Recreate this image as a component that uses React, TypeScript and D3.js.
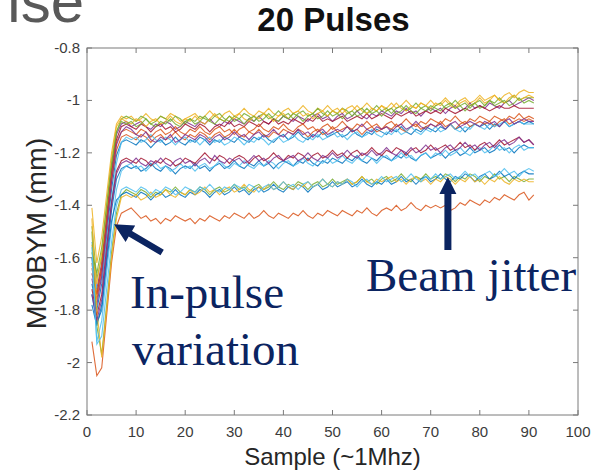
import React from "react";
import * as d3 from "d3";

// sample index 1..91
const samples: number[] = d3.range(1, 92);

const xTicks = [0, 10, 20, 30, 40, 50, 60, 70, 80, 90, 100];
const yTicks = [-0.8, -1, -1.2, -1.4, -1.6, -1.8, -2, -2.2];

const pulse01 = [-1.70,-1.80,-1.70,-1.52,-1.34,-1.21,-1.16,-1.15,
-1.16,-1.17,-1.15,-1.16,-1.18,-1.16,-1.15,-1.17,-1.16,-1.14,-1.16,-1.17,
-1.15,-1.16,-1.14,-1.15,-1.17,-1.15,-1.16,-1.14,-1.15,-1.16,
-1.14,-1.15,-1.16,-1.14,-1.15,-1.13,-1.15,-1.16,-1.14,-1.13,
-1.15,-1.14,-1.12,-1.14,-1.15,-1.13,-1.14,-1.12,-1.14,-1.13,
-1.12,-1.14,-1.13,-1.11,-1.13,-1.14,-1.12,-1.13,-1.11,-1.12,
-1.13,-1.11,-1.12,-1.10,-1.12,-1.13,-1.11,-1.12,-1.10,-1.11,
-1.12,-1.10,-1.11,-1.09,-1.11,-1.10,-1.12,-1.10,-1.09,-1.10,
-1.09,-1.11,-1.09,-1.10,-1.08,-1.10,-1.09,-1.08,-1.09,-1.08,-1.09];
const pulse02 = [-1.62,-1.76,-1.66,-1.48,-1.31,-1.19,-1.14,-1.13,
-1.14,-1.15,-1.13,-1.14,-1.16,-1.14,-1.13,-1.15,-1.14,-1.12,-1.14,-1.15,
-1.13,-1.14,-1.12,-1.13,-1.15,-1.13,-1.12,-1.14,-1.13,-1.11,
-1.13,-1.14,-1.12,-1.13,-1.11,-1.13,-1.14,-1.12,-1.13,-1.11,
-1.12,-1.13,-1.11,-1.12,-1.14,-1.12,-1.11,-1.13,-1.12,-1.10,
-1.12,-1.11,-1.10,-1.12,-1.11,-1.13,-1.11,-1.10,-1.12,-1.11,
-1.10,-1.11,-1.09,-1.11,-1.12,-1.10,-1.09,-1.11,-1.10,-1.09,
-1.10,-1.08,-1.10,-1.09,-1.11,-1.09,-1.08,-1.10,-1.09,-1.08,
-1.09,-1.08,-1.10,-1.08,-1.07,-1.09,-1.08,-1.07,-1.08,-1.07,-1.08];
const pulse03 = [-1.41,-1.62,-1.52,-1.36,-1.20,-1.09,-1.06,-1.07,
-1.06,-1.08,-1.07,-1.05,-1.07,-1.08,-1.06,-1.07,-1.05,-1.06,-1.08,-1.07,
-1.06,-1.05,-1.07,-1.06,-1.04,-1.06,-1.07,-1.05,-1.04,-1.06,
-1.05,-1.03,-1.05,-1.06,-1.04,-1.05,-1.03,-1.05,-1.06,-1.04,
-1.03,-1.05,-1.04,-1.02,-1.04,-1.05,-1.03,-1.04,-1.02,-1.04,
-1.03,-1.05,-1.03,-1.02,-1.04,-1.03,-1.01,-1.03,-1.04,-1.02,
-1.03,-1.01,-1.03,-1.02,-1.00,-1.02,-1.03,-1.01,-1.02,-1.00,
-1.02,-1.01,-0.99,-1.01,-1.02,-1.00,-0.99,-1.01,-1.00,-0.98,
-1.00,-0.99,-0.98,-1.00,-0.98,-0.97,-0.99,-0.97,-0.96,-0.97,-0.97];
const pulse04 = [-1.60,-1.72,-1.62,-1.44,-1.26,-1.13,-1.09,-1.08,
-1.10,-1.09,-1.08,-1.10,-1.11,-1.09,-1.10,-1.08,-1.09,-1.11,-1.10,-1.08,
-1.09,-1.10,-1.08,-1.09,-1.07,-1.09,-1.10,-1.08,-1.09,-1.07,
-1.08,-1.09,-1.07,-1.08,-1.06,-1.08,-1.09,-1.07,-1.08,-1.06,
-1.07,-1.08,-1.06,-1.07,-1.08,-1.06,-1.05,-1.07,-1.06,-1.08,
-1.06,-1.05,-1.07,-1.06,-1.04,-1.06,-1.07,-1.05,-1.06,-1.04,
-1.05,-1.06,-1.04,-1.05,-1.03,-1.05,-1.04,-1.06,-1.04,-1.03,
-1.04,-1.03,-1.05,-1.03,-1.02,-1.04,-1.03,-1.01,-1.03,-1.02,
-1.03,-1.01,-1.02,-1.03,-1.01,-1.00,-1.02,-1.01,-1.00,-0.99,-1.00];
const pulse05 = [-1.48,-1.68,-1.60,-1.42,-1.25,-1.12,-1.07,-1.06,
-1.07,-1.08,-1.06,-1.07,-1.09,-1.08,-1.06,-1.07,-1.08,-1.06,-1.07,-1.09,
-1.07,-1.08,-1.06,-1.07,-1.08,-1.06,-1.05,-1.07,-1.08,-1.06,
-1.07,-1.05,-1.06,-1.08,-1.06,-1.05,-1.07,-1.06,-1.04,-1.06,
-1.05,-1.07,-1.05,-1.04,-1.06,-1.05,-1.03,-1.05,-1.06,-1.04,
-1.05,-1.03,-1.04,-1.06,-1.04,-1.03,-1.05,-1.04,-1.02,-1.04,
-1.03,-1.05,-1.03,-1.02,-1.04,-1.03,-1.01,-1.03,-1.02,-1.04,
-1.02,-1.01,-1.03,-1.02,-1.00,-1.02,-1.01,-1.03,-1.01,-1.00,
-1.02,-1.00,-1.01,-0.99,-1.01,-1.00,-0.98,-1.00,-0.99,-0.99,-0.99];
const pulse06 = [-1.54,-1.72,-1.68,-1.54,-1.38,-1.24,-1.16,-1.14,
-1.15,-1.14,-1.16,-1.15,-1.13,-1.15,-1.16,-1.14,-1.15,-1.17,-1.15,-1.14,
-1.16,-1.15,-1.17,-1.15,-1.14,-1.16,-1.15,-1.17,-1.16,-1.14,
-1.15,-1.17,-1.15,-1.16,-1.14,-1.15,-1.17,-1.15,-1.14,-1.16,
-1.15,-1.13,-1.15,-1.16,-1.14,-1.15,-1.13,-1.15,-1.14,-1.12,
-1.14,-1.13,-1.15,-1.13,-1.12,-1.14,-1.13,-1.11,-1.13,-1.14,
-1.12,-1.13,-1.11,-1.13,-1.12,-1.10,-1.12,-1.13,-1.11,-1.12,
-1.10,-1.12,-1.11,-1.09,-1.11,-1.12,-1.10,-1.11,-1.09,-1.10,
-1.11,-1.09,-1.10,-1.09,-1.08,-1.10,-1.09,-1.08,-1.09,-1.09,-1.09];
const pulse07 = [-1.66,-1.74,-1.64,-1.46,-1.28,-1.15,-1.10,-1.09,
-1.10,-1.11,-1.09,-1.10,-1.12,-1.10,-1.09,-1.11,-1.10,-1.12,-1.11,-1.09,
-1.10,-1.11,-1.09,-1.10,-1.12,-1.10,-1.09,-1.10,-1.08,-1.10,
-1.09,-1.10,-1.08,-1.09,-1.10,-1.08,-1.09,-1.07,-1.09,-1.08,
-1.09,-1.07,-1.08,-1.09,-1.07,-1.08,-1.06,-1.08,-1.07,-1.08,
-1.07,-1.06,-1.08,-1.07,-1.06,-1.07,-1.05,-1.07,-1.06,-1.05,
-1.06,-1.07,-1.05,-1.06,-1.05,-1.04,-1.06,-1.05,-1.04,-1.05,
-1.04,-1.05,-1.03,-1.04,-1.05,-1.04,-1.03,-1.04,-1.03,-1.02,
-1.03,-1.04,-1.03,-1.02,-1.03,-1.03,-1.02,-1.03,-1.03,-1.03,-1.03];
const pulse08 = [-1.78,-1.86,-1.78,-1.60,-1.42,-1.30,-1.26,-1.25,
-1.26,-1.25,-1.27,-1.26,-1.24,-1.26,-1.27,-1.25,-1.26,-1.28,-1.26,-1.25,
-1.26,-1.24,-1.26,-1.25,-1.27,-1.25,-1.24,-1.26,-1.25,-1.23,
-1.25,-1.26,-1.24,-1.25,-1.23,-1.25,-1.24,-1.26,-1.24,-1.23,
-1.24,-1.25,-1.23,-1.24,-1.22,-1.24,-1.25,-1.23,-1.24,-1.22,
-1.23,-1.24,-1.22,-1.23,-1.21,-1.23,-1.24,-1.22,-1.23,-1.21,
-1.22,-1.23,-1.21,-1.22,-1.20,-1.22,-1.23,-1.21,-1.20,-1.22,
-1.21,-1.20,-1.22,-1.20,-1.19,-1.21,-1.20,-1.18,-1.20,-1.19,
-1.18,-1.20,-1.19,-1.17,-1.19,-1.18,-1.20,-1.18,-1.17,-1.18,-1.18];
const pulse09 = [-1.64,-1.74,-1.63,-1.46,-1.29,-1.16,-1.12,-1.11,
-1.12,-1.13,-1.11,-1.12,-1.14,-1.12,-1.11,-1.13,-1.12,-1.10,-1.12,-1.13,
-1.11,-1.12,-1.10,-1.12,-1.13,-1.11,-1.10,-1.12,-1.11,-1.13,
-1.11,-1.10,-1.12,-1.11,-1.09,-1.11,-1.12,-1.10,-1.11,-1.09,
-1.11,-1.12,-1.10,-1.09,-1.11,-1.10,-1.12,-1.10,-1.09,-1.11,
-1.10,-1.08,-1.10,-1.11,-1.09,-1.10,-1.08,-1.10,-1.09,-1.11,
-1.09,-1.08,-1.10,-1.09,-1.07,-1.09,-1.10,-1.08,-1.09,-1.07,
-1.08,-1.09,-1.07,-1.08,-1.06,-1.08,-1.09,-1.07,-1.08,-1.06,
-1.07,-1.08,-1.06,-1.07,-1.08,-1.06,-1.07,-1.05,-1.07,-1.06,-1.07];
const pulse10 = [-1.55,-1.70,-1.58,-1.40,-1.22,-1.10,-1.07,-1.08,
-1.09,-1.07,-1.08,-1.10,-1.08,-1.07,-1.09,-1.08,-1.06,-1.08,-1.09,-1.07,
-1.08,-1.06,-1.08,-1.09,-1.07,-1.05,-1.07,-1.08,-1.06,-1.07,
-1.05,-1.07,-1.08,-1.06,-1.07,-1.05,-1.06,-1.08,-1.06,-1.05,
-1.07,-1.05,-1.04,-1.06,-1.05,-1.07,-1.05,-1.04,-1.06,-1.04,
-1.05,-1.03,-1.05,-1.04,-1.02,-1.04,-1.05,-1.03,-1.04,-1.02,
-1.04,-1.03,-1.01,-1.03,-1.04,-1.02,-1.03,-1.01,-1.02,-1.03,
-1.01,-1.02,-1.00,-1.02,-1.03,-1.01,-1.00,-1.02,-1.01,-0.99,
-1.01,-1.00,-0.98,-1.00,-1.01,-0.99,-0.98,-1.00,-0.99,-0.98,-0.99];
const pulse11 = [-1.68,-1.78,-1.67,-1.49,-1.31,-1.17,-1.12,-1.10,
-1.11,-1.13,-1.14,-1.12,-1.15,-1.16,-1.14,-1.15,-1.13,-1.16,-1.15,-1.13,
-1.14,-1.15,-1.13,-1.14,-1.16,-1.14,-1.13,-1.15,-1.14,-1.12,
-1.14,-1.13,-1.15,-1.13,-1.12,-1.14,-1.13,-1.11,-1.13,-1.14,
-1.12,-1.13,-1.11,-1.13,-1.12,-1.14,-1.12,-1.11,-1.13,-1.12,
-1.11,-1.12,-1.10,-1.12,-1.11,-1.09,-1.11,-1.12,-1.10,-1.11,
-1.10,-1.12,-1.10,-1.09,-1.11,-1.10,-1.08,-1.10,-1.11,-1.09,
-1.10,-1.09,-1.11,-1.09,-1.08,-1.10,-1.09,-1.08,-1.09,-1.10,
-1.08,-1.09,-1.08,-1.10,-1.08,-1.07,-1.09,-1.08,-1.07,-1.08,-1.08];
const pulse12 = [-1.50,-1.86,-1.97,-1.78,-1.58,-1.43,-1.36,-1.34,
-1.35,-1.36,-1.34,-1.35,-1.37,-1.35,-1.36,-1.34,-1.35,-1.33,-1.35,-1.36,
-1.34,-1.35,-1.33,-1.34,-1.36,-1.34,-1.33,-1.35,-1.34,-1.32,
-1.34,-1.33,-1.35,-1.33,-1.32,-1.34,-1.33,-1.31,-1.33,-1.34,
-1.32,-1.33,-1.31,-1.32,-1.34,-1.32,-1.31,-1.33,-1.32,-1.30,
-1.32,-1.31,-1.30,-1.32,-1.31,-1.29,-1.31,-1.30,-1.32,-1.30,
-1.29,-1.31,-1.30,-1.28,-1.30,-1.31,-1.29,-1.30,-1.28,-1.30,
-1.29,-1.30,-1.28,-1.29,-1.31,-1.29,-1.30,-1.28,-1.29,-1.31,
-1.29,-1.30,-1.28,-1.30,-1.29,-1.31,-1.29,-1.30,-1.31,-1.30,-1.30];
const pulse13 = [-1.60,-1.92,-1.84,-1.66,-1.48,-1.34,-1.27,-1.25,
-1.24,-1.26,-1.25,-1.27,-1.25,-1.24,-1.26,-1.25,-1.27,-1.26,-1.24,-1.26,
-1.25,-1.27,-1.25,-1.24,-1.26,-1.25,-1.23,-1.25,-1.26,-1.24,
-1.25,-1.23,-1.25,-1.26,-1.24,-1.25,-1.23,-1.24,-1.26,-1.24,
-1.23,-1.25,-1.24,-1.22,-1.24,-1.25,-1.23,-1.24,-1.22,-1.24,
-1.23,-1.21,-1.23,-1.24,-1.22,-1.23,-1.21,-1.22,-1.24,-1.22,
-1.21,-1.23,-1.22,-1.20,-1.22,-1.21,-1.23,-1.21,-1.20,-1.22,
-1.20,-1.21,-1.19,-1.21,-1.20,-1.18,-1.20,-1.21,-1.19,-1.18,
-1.20,-1.19,-1.17,-1.19,-1.18,-1.20,-1.18,-1.17,-1.19,-1.18,-1.18];
const pulse14 = [-1.72,-1.82,-1.74,-1.56,-1.39,-1.27,-1.23,-1.22,
-1.23,-1.24,-1.22,-1.23,-1.25,-1.23,-1.24,-1.22,-1.23,-1.25,-1.24,-1.22,
-1.23,-1.24,-1.22,-1.20,-1.22,-1.23,-1.21,-1.22,-1.24,-1.22,
-1.21,-1.22,-1.24,-1.22,-1.21,-1.23,-1.22,-1.20,-1.22,-1.23,
-1.21,-1.22,-1.20,-1.21,-1.23,-1.21,-1.20,-1.22,-1.21,-1.19,
-1.21,-1.20,-1.22,-1.20,-1.19,-1.21,-1.20,-1.18,-1.20,-1.21,
-1.19,-1.20,-1.18,-1.19,-1.21,-1.19,-1.18,-1.20,-1.19,-1.17,
-1.19,-1.18,-1.17,-1.19,-1.18,-1.16,-1.18,-1.17,-1.19,-1.17,
-1.16,-1.18,-1.17,-1.15,-1.17,-1.16,-1.15,-1.14,-1.16,-1.15,-1.17];
const pulse15 = [-1.74,-1.85,-1.80,-1.62,-1.46,-1.38,-1.36,-1.35,
-1.36,-1.37,-1.35,-1.36,-1.38,-1.36,-1.35,-1.37,-1.36,-1.34,-1.36,-1.37,
-1.35,-1.36,-1.34,-1.35,-1.37,-1.35,-1.34,-1.36,-1.35,-1.33,
-1.35,-1.34,-1.36,-1.34,-1.33,-1.35,-1.34,-1.32,-1.34,-1.35,
-1.33,-1.34,-1.32,-1.33,-1.35,-1.33,-1.32,-1.34,-1.33,-1.31,
-1.33,-1.32,-1.31,-1.33,-1.32,-1.30,-1.32,-1.33,-1.31,-1.32,
-1.30,-1.32,-1.31,-1.29,-1.31,-1.30,-1.32,-1.30,-1.29,-1.31,
-1.30,-1.28,-1.30,-1.31,-1.29,-1.30,-1.28,-1.29,-1.31,-1.29,
-1.28,-1.30,-1.29,-1.27,-1.29,-1.28,-1.30,-1.28,-1.27,-1.28,-1.28];
const pulse16 = [-1.92,-2.05,-2.02,-1.82,-1.62,-1.48,-1.43,-1.42,
-1.41,-1.43,-1.45,-1.44,-1.46,-1.45,-1.47,-1.45,-1.46,-1.44,-1.45,-1.46,
-1.45,-1.47,-1.45,-1.46,-1.44,-1.45,-1.46,-1.44,-1.45,-1.43,
-1.44,-1.45,-1.43,-1.45,-1.44,-1.42,-1.44,-1.45,-1.43,-1.44,
-1.45,-1.43,-1.44,-1.42,-1.44,-1.45,-1.43,-1.44,-1.42,-1.43,
-1.44,-1.42,-1.43,-1.44,-1.42,-1.43,-1.41,-1.43,-1.44,-1.42,
-1.41,-1.42,-1.40,-1.42,-1.41,-1.39,-1.41,-1.42,-1.40,-1.41,
-1.40,-1.41,-1.40,-1.42,-1.41,-1.39,-1.40,-1.38,-1.39,-1.40,
-1.38,-1.39,-1.37,-1.38,-1.36,-1.37,-1.38,-1.36,-1.35,-1.38,-1.36];
const pulse17 = [-1.45,-1.80,-1.98,-1.80,-1.60,-1.45,-1.37,-1.36,
-1.37,-1.36,-1.38,-1.37,-1.35,-1.37,-1.36,-1.34,-1.36,-1.37,-1.35,-1.36,
-1.34,-1.36,-1.35,-1.33,-1.35,-1.34,-1.36,-1.34,-1.33,-1.35,
-1.34,-1.32,-1.34,-1.35,-1.33,-1.34,-1.32,-1.34,-1.33,-1.31,
-1.33,-1.34,-1.32,-1.33,-1.31,-1.33,-1.32,-1.30,-1.32,-1.33,
-1.31,-1.32,-1.30,-1.32,-1.31,-1.29,-1.31,-1.32,-1.30,-1.31,
-1.30,-1.29,-1.31,-1.30,-1.32,-1.30,-1.29,-1.31,-1.30,-1.32,
-1.30,-1.31,-1.29,-1.30,-1.32,-1.30,-1.31,-1.29,-1.31,-1.30,
-1.32,-1.30,-1.31,-1.29,-1.31,-1.32,-1.30,-1.31,-1.30,-1.31,-1.31];
const pulse18 = [-1.74,-1.84,-1.76,-1.58,-1.40,-1.28,-1.24,-1.23,
-1.24,-1.22,-1.24,-1.25,-1.23,-1.24,-1.22,-1.24,-1.25,-1.23,-1.22,-1.24,
-1.23,-1.25,-1.23,-1.22,-1.24,-1.21,-1.23,-1.24,-1.22,-1.23,
-1.22,-1.24,-1.23,-1.21,-1.23,-1.22,-1.24,-1.22,-1.21,-1.23,
-1.22,-1.21,-1.23,-1.22,-1.20,-1.22,-1.23,-1.21,-1.22,-1.20,
-1.22,-1.21,-1.19,-1.21,-1.22,-1.20,-1.21,-1.19,-1.21,-1.20,
-1.18,-1.20,-1.21,-1.19,-1.20,-1.18,-1.20,-1.19,-1.17,-1.19,
-1.18,-1.20,-1.18,-1.17,-1.19,-1.18,-1.16,-1.18,-1.17,-1.19,
-1.17,-1.16,-1.18,-1.16,-1.15,-1.17,-1.16,-1.14,-1.16,-1.15,-1.17];
const pulse19 = [-1.58,-1.66,-1.56,-1.40,-1.24,-1.12,-1.08,-1.09,
-1.08,-1.10,-1.09,-1.07,-1.09,-1.10,-1.08,-1.09,-1.07,-1.09,-1.10,-1.08,
-1.07,-1.09,-1.08,-1.06,-1.08,-1.09,-1.07,-1.08,-1.06,-1.08,
-1.07,-1.09,-1.07,-1.06,-1.08,-1.07,-1.05,-1.07,-1.08,-1.06,
-1.07,-1.05,-1.06,-1.08,-1.06,-1.05,-1.07,-1.06,-1.04,-1.06,
-1.05,-1.07,-1.05,-1.04,-1.06,-1.05,-1.03,-1.05,-1.04,-1.06,
-1.04,-1.03,-1.05,-1.04,-1.02,-1.04,-1.05,-1.03,-1.04,-1.02,
-1.03,-1.04,-1.02,-1.01,-1.03,-1.02,-1.04,-1.02,-1.01,-1.03,
-1.02,-1.00,-1.02,-1.01,-1.00,-1.02,-1.01,-0.99,-1.01,-1.00,-1.01];
const pulse20 = [-1.56,-1.93,-1.90,-1.72,-1.54,-1.40,-1.34,-1.33,
-1.34,-1.35,-1.33,-1.34,-1.36,-1.34,-1.35,-1.33,-1.34,-1.36,-1.35,-1.33,
-1.34,-1.35,-1.33,-1.34,-1.32,-1.34,-1.35,-1.33,-1.34,-1.32,
-1.33,-1.34,-1.32,-1.33,-1.35,-1.33,-1.32,-1.34,-1.33,-1.31,
-1.33,-1.32,-1.34,-1.32,-1.31,-1.33,-1.32,-1.30,-1.32,-1.33,
-1.31,-1.32,-1.30,-1.31,-1.33,-1.31,-1.30,-1.32,-1.31,-1.29,
-1.31,-1.30,-1.29,-1.31,-1.30,-1.28,-1.30,-1.31,-1.29,-1.30,
-1.28,-1.30,-1.29,-1.28,-1.30,-1.29,-1.27,-1.29,-1.28,-1.30,
-1.28,-1.27,-1.29,-1.28,-1.26,-1.28,-1.27,-1.29,-1.27,-1.26,-1.27];

const pulses = [pulse01, pulse02, pulse03, pulse04, pulse05, pulse06, pulse07, pulse08, pulse09, pulse10,
  pulse11, pulse12, pulse13, pulse14, pulse15, pulse16, pulse17, pulse18, pulse19, pulse20];

const colorOrder = ["#0072BD", "#D95319", "#EDB120", "#7E2F8E", "#77AC30", "#4DBEEE", "#A2142F"];

// annotation anchor points in data coordinates: [sample, value]
const arrow1 = { tip: [5.5, -1.472], tail: [15.3, -1.58] };
const arrow2 = { tip: [73.5, -1.292], tail: [73.5, -1.571] };

const W = 602, H = 472;
const x = d3.scaleLinear().domain([0, 100]).range([87, 578]);
const y = d3.scaleLinear().domain([-2.2, -0.8]).range([415, 48]);

function arrowPath(tip: number[], tail: number[], headLen: number, headW: number, shaftW: number) {
  const tx = x(tip[0]), ty = y(tip[1]);
  const sx = x(tail[0]), sy = y(tail[1]);
  const dx = tx - sx, dy = ty - sy;
  const L = Math.hypot(dx, dy);
  const ux = dx / L, uy = dy / L;
  const px = -uy, py = ux;
  const bx = tx - ux * headLen, by = ty - uy * headLen;
  const pts = [
    [sx + px * shaftW / 2, sy + py * shaftW / 2],
    [bx + px * shaftW / 2, by + py * shaftW / 2],
    [bx + px * headW / 2, by + py * headW / 2],
    [tx, ty],
    [bx - px * headW / 2, by - py * headW / 2],
    [bx - px * shaftW / 2, by - py * shaftW / 2],
    [sx - px * shaftW / 2, sy - py * shaftW / 2],
  ];
  return "M" + pts.map(p => p[0].toFixed(1) + "," + p[1].toFixed(1)).join("L") + "Z";
}

export default function App() {
  const line = d3.line<number>().x((_, i) => x(samples[i])).y(v => y(v));
  const axisColor = "#7a7a7a";
  const labelColor = "#3c3c3c";
  const navy = "#0b2461";
  const [x0, x1] = x.range();
  const [yb, yt] = y.range();
  return (
    <svg width={W} height={H} style={{ position: "absolute", left: 0, top: 0, background: "#fff" }}
      fontFamily="'Liberation Sans', Arial, sans-serif">
      <rect x={0} y={0} width={W} height={H} fill="#fff" />
      <text x={84} y={22} fontSize={60} fill="#595959" textAnchor="end">ise</text>
      {pulses.map((p, i) => (
        <path key={i} d={line(p) || ""} fill="none" stroke={colorOrder[i % 7]} strokeWidth={1.1} strokeOpacity={0.85} />
      ))}
      <rect x={x0} y={yt} width={x1 - x0} height={yb - yt} fill="none" stroke={axisColor} strokeWidth={1} />
      {xTicks.map(t => (
        <g key={"x" + t}>
          <line x1={x(t)} x2={x(t)} y1={yb} y2={yb - 5} stroke={axisColor} />
          <line x1={x(t)} x2={x(t)} y1={yt} y2={yt + 5} stroke={axisColor} />
          <text x={x(t)} y={yb + 22} fontSize={15} fill={labelColor} textAnchor="middle">{String(t)}</text>
        </g>
      ))}
      {yTicks.map(t => (
        <g key={"y" + t}>
          <line x1={x0} x2={x0 + 5} y1={y(t)} y2={y(t)} stroke={axisColor} />
          <line x1={x1} x2={x1 - 5} y1={y(t)} y2={y(t)} stroke={axisColor} />
          <text x={x0 - 7} y={y(t) + 5} fontSize={15} fill={labelColor} textAnchor="end">{String(t)}</text>
        </g>
      ))}
      <text x={(x0 + x1) / 2 + 1} y={31} fontSize={33} fontWeight="bold" fill="#111" textAnchor="middle">20 Pulses</text>
      <text x={(x0 + x1) / 2} y={465} fontSize={24} fill="#262626" textAnchor="middle">Sample (~1Mhz)</text>
      <text transform={`translate(46,${(yt + yb) / 2 + 2}) rotate(-90)`} fontSize={28.5} fill="#262626" textAnchor="middle">M00BYM (mm)</text>
      <path d={arrowPath(arrow1.tip, arrow1.tail, 19, 19, 6.5)} fill={navy} />
      <path d={arrowPath(arrow2.tip, arrow2.tail, 17, 17, 7)} fill={navy} />
      <g fontFamily="'Liberation Serif', 'Times New Roman', serif" fontSize={47} fill={navy}>
        <text x={130} y={308}>In-pulse</text>
        <text x={132} y={365}>variation</text>
        <text x={366} y={291}>Beam jitter</text>
      </g>
    </svg>
  );
}
